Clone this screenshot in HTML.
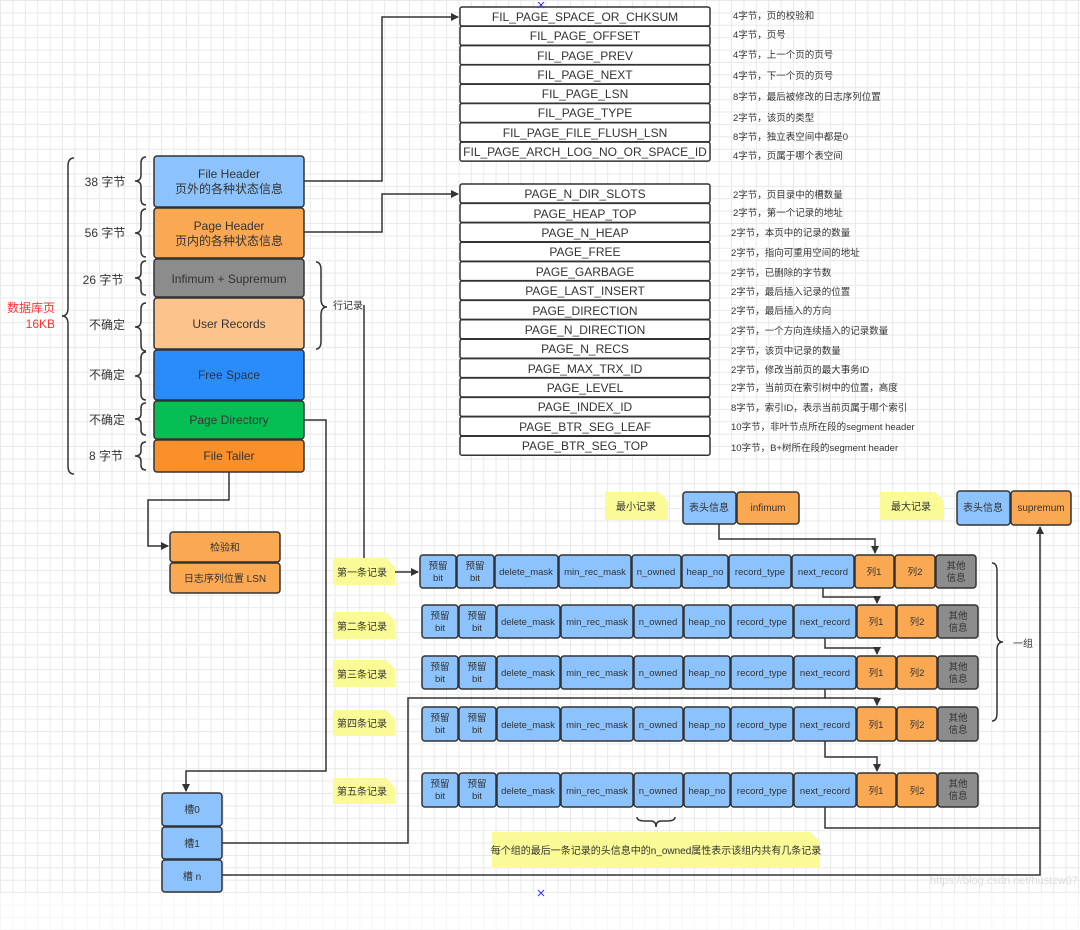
<!DOCTYPE html>
<html><head><meta charset="utf-8">
<style>
html,body{margin:0;padding:0;}
body{width:1080px;height:930px;overflow:hidden;background:#fff;
background-image:linear-gradient(#e9e9e9 1px,transparent 1px),linear-gradient(90deg,#e9e9e9 1px,transparent 1px);
background-size:12.4px 12.4px;}
svg{position:absolute;left:0;top:0;font-family:"Liberation Sans","Noto Sans CJK SC",sans-serif;}
</style></head><body>
<svg width="1080" height="930" viewBox="0 0 1080 930">
<defs>
<marker id="a" markerWidth="8" markerHeight="8" refX="7" refY="4" orient="auto" markerUnits="userSpaceOnUse">
<path d="M0,0 L8,4 L0,8 z" fill="#333"/></marker>
</defs>
<rect x="0" y="893" width="1080" height="37" fill="#fff" opacity="0.6"/>
<g stroke="#333" stroke-width="1.5" fill="none">
<!-- left big brace -->
<path d="M74,158 q-6,0 -6,8 v142 q0,8 -6,8 q6,0 6,8 v142 q0,8 6,8"/>
<!-- small braces -->
<path d="M146,157 q-5,0 -5,6 v12 q0,6 -6,6 q6,0 6,6 v12 q0,6 5,6"/>
<path d="M146,209 q-5,0 -5,6 v12 q0,6 -6,6 q6,0 6,6 v12 q0,6 5,6"/>
<path d="M146,261 q-5,0 -5,5 v7 q0,5 -6,5 q6,0 6,5 v7 q0,5 5,5"/>
<path d="M146,303 q-5,0 -5,6 v12 q0,6 -6,6 q6,0 6,6 v12 q0,6 5,6"/>
<path d="M146,352 q-5,0 -5,6 v12 q0,6 -6,6 q6,0 6,6 v12 q0,6 5,6"/>
<path d="M146,403 q-5,0 -5,5 v6 q0,5 -6,5 q6,0 6,5 v6 q0,5 5,5"/>
<path d="M146,442 q-5,0 -5,5 v4 q0,5 -6,5 q6,0 6,5 v4 q0,5 5,5"/>
<!-- 行记录 brace -->
<path d="M316,262 q5,0 5,8 v29 q0,8 6,8 q-6,0 -6,8 v26 q0,8 -5,8"/>
<!-- 一组 brace -->
<path d="M992,563 q5,0 5,8 v63 q0,8 6,8 q-6,0 -6,8 v63 q0,8 -5,8"/>
<!-- n_owned brace -->
<path d="M637,817 q0,4 8,4 h6 q5,0 5,6 q0,-6 5,-6 h6 q8,0 8,-4"/>
</g>
<g stroke="#333" stroke-width="1.5" fill="none">
<polyline points="304,181 382,181 382,17 458,17" marker-end="url(#a)"/>
<polyline points="304,232 382,232 382,194 458,194" marker-end="url(#a)"/>
<polyline points="364,305 364,565"/>
<polyline points="395,572 418,572" marker-end="url(#a)"/>
<polyline points="304,420 326,420 326,771 186,771 186,791" marker-end="url(#a)"/>
<polyline points="229,472 229,500 148,500 148,546 168,546" marker-end="url(#a)"/>
<polyline points="719,524 719,539 875,539 875,553" marker-end="url(#a)"/>
<polyline points="823,588 823,597 877,597 877,603" marker-end="url(#a)"/>
<polyline points="825,638 825,648 877,648 877,654" marker-end="url(#a)"/>
<polyline points="825,689 825,698 877,698 877,705" marker-end="url(#a)"/>
<polyline points="222,843 408,843 408,698 825,698"/>
<polyline points="825,741 825,757 877,757 877,771" marker-end="url(#a)"/>
<polyline points="825,807 825,828 1040,828"/>
<polyline points="222,875 1040,875 1040,527" marker-end="url(#a)"/>
</g>
<!-- left stack -->
<g stroke="#333" stroke-width="1.5">
<rect x="154" y="156" width="150" height="51" rx="3" fill="#8cc3fc"/>
<rect x="154" y="208" width="150" height="50" rx="3" fill="#fba853"/>
<rect x="154" y="259" width="150" height="38" rx="3" fill="#8c8c8c"/>
<rect x="154" y="298" width="150" height="51" rx="3" fill="#fcc48c"/>
<rect x="154" y="350" width="150" height="50" rx="3" fill="#2a8bfb"/>
<rect x="154" y="401" width="150" height="38" rx="3" fill="#06bf54"/>
<rect x="154" y="440" width="150" height="32" rx="3" fill="#fb8f2a"/>
<rect x="170" y="532" width="110" height="30" rx="3" fill="#fba853"/>
<rect x="170" y="563" width="110" height="30" rx="3" fill="#fba853"/>
<rect x="162" y="793" width="60" height="33" rx="3" fill="#8cc3fc"/>
<rect x="162" y="827" width="60" height="32" rx="3" fill="#8cc3fc"/>
<rect x="162" y="860" width="60" height="32" rx="3" fill="#8cc3fc"/>
</g>
<g font-size="12" fill="#333" text-anchor="middle">
<text x="229" y="178">File Header</text><text x="229" y="193">页外的各种状态信息</text>
<text x="229" y="230">Page Header</text><text x="229" y="245">页内的各种状态信息</text>
<text x="229" y="283">Infimum + Supremum</text>
<text x="229" y="328">User Records</text>
<text x="229" y="379">Free Space</text>
<text x="229" y="424">Page Directory</text>
<text x="229" y="460">File Tailer</text>
<text x="105" y="186">38 字节</text><text x="105" y="237">56 字节</text>
<text x="103" y="284">26 字节</text><text x="107" y="329">不确定</text>
<text x="107" y="379">不确定</text><text x="107" y="424">不确定</text>
<text x="106" y="460">8 字节</text>
</g>
<g font-size="10" fill="#333" text-anchor="middle">
<text x="225" y="551">检验和</text><text x="225" y="582">日志序列位置 LSN</text>
<text x="192" y="813">槽0</text><text x="192" y="847">槽1</text><text x="192" y="880">槽 n</text>
</g>
<text x="348" y="309" font-size="10" fill="#333" text-anchor="middle">行记录</text>
<text x="1023" y="647" font-size="10" fill="#333" text-anchor="middle">一组</text>
<text x="55" y="312" font-size="12" fill="#f33" text-anchor="end">数据库页</text>
<text x="55" y="328" font-size="12" fill="#f33" text-anchor="end">16KB</text>
<!-- lists -->
<g stroke="#333" stroke-width="1.5" fill="#fff">
<rect x="460" y="7" width="250" height="19" rx="2"/><rect x="460" y="26.3" width="250" height="19" rx="2"/>
<rect x="460" y="45.6" width="250" height="19" rx="2"/><rect x="460" y="64.9" width="250" height="19" rx="2"/>
<rect x="460" y="84.2" width="250" height="19" rx="2"/><rect x="460" y="103.5" width="250" height="19" rx="2"/>
<rect x="460" y="122.8" width="250" height="19" rx="2"/><rect x="460" y="142.1" width="250" height="19" rx="2"/>
<rect x="460" y="184" width="250" height="19" rx="2"/><rect x="460" y="203.4" width="250" height="19" rx="2"/>
<rect x="460" y="222.8" width="250" height="19" rx="2"/><rect x="460" y="242.2" width="250" height="19" rx="2"/>
<rect x="460" y="261.6" width="250" height="19" rx="2"/><rect x="460" y="281" width="250" height="19" rx="2"/>
<rect x="460" y="300.4" width="250" height="19" rx="2"/><rect x="460" y="319.8" width="250" height="19" rx="2"/>
<rect x="460" y="339.2" width="250" height="19" rx="2"/><rect x="460" y="358.6" width="250" height="19" rx="2"/>
<rect x="460" y="378" width="250" height="19" rx="2"/><rect x="460" y="397.4" width="250" height="19" rx="2"/>
<rect x="460" y="416.8" width="250" height="19" rx="2"/><rect x="460" y="436.2" width="250" height="19" rx="2"/>
</g>
<g font-size="12" fill="#333" text-anchor="middle">
<text x="585" y="21">FIL_PAGE_SPACE_OR_CHKSUM</text><text x="585" y="40">FIL_PAGE_OFFSET</text>
<text x="585" y="60">FIL_PAGE_PREV</text><text x="585" y="79">FIL_PAGE_NEXT</text>
<text x="585" y="98">FIL_PAGE_LSN</text><text x="585" y="117">FIL_PAGE_TYPE</text>
<text x="585" y="137">FIL_PAGE_FILE_FLUSH_LSN</text><text x="585" y="156">FIL_PAGE_ARCH_LOG_NO_OR_SPACE_ID</text>
<text x="585" y="198">PAGE_N_DIR_SLOTS</text><text x="585" y="218">PAGE_HEAP_TOP</text>
<text x="585" y="237">PAGE_N_HEAP</text><text x="585" y="256">PAGE_FREE</text>
<text x="585" y="276">PAGE_GARBAGE</text><text x="585" y="295">PAGE_LAST_INSERT</text>
<text x="585" y="315">PAGE_DIRECTION</text><text x="585" y="334">PAGE_N_DIRECTION</text>
<text x="585" y="353">PAGE_N_RECS</text><text x="585" y="373">PAGE_MAX_TRX_ID</text>
<text x="585" y="392">PAGE_LEVEL</text><text x="585" y="411">PAGE_INDEX_ID</text>
<text x="585" y="431">PAGE_BTR_SEG_LEAF</text><text x="585" y="450">PAGE_BTR_SEG_TOP</text>
</g>
<g font-size="9.5" fill="#333">
<text x="733" y="19">4字节，页的校验和</text><text x="733" y="38">4字节，页号</text>
<text x="733" y="58">4字节，上一个页的页号</text><text x="733" y="79">4字节，下一个页的页号</text>
<text x="733" y="100">8字节，最后被修改的日志序列位置</text><text x="733" y="121">2字节，该页的类型</text>
<text x="733" y="140">8字节，独立表空间中都是0</text><text x="733" y="159">4字节，页属于哪个表空间</text>
<text x="733" y="198">2字节，页目录中的槽数量</text><text x="733" y="216">2字节，第一个记录的地址</text>
<text x="731" y="236">2字节，本页中的记录的数量</text><text x="731" y="256">2字节，指向可重用空间的地址</text>
<text x="731" y="276">2字节，已删除的字节数</text><text x="731" y="295">2字节，最后插入记录的位置</text>
<text x="731" y="314">2字节，最后插入的方向</text><text x="731" y="334">2字节，一个方向连续插入的记录数量</text>
<text x="731" y="354">2字节，该页中记录的数量</text><text x="731" y="373">2字节，修改当前页的最大事务ID</text>
<text x="731" y="391">2字节，当前页在索引树中的位置，高度</text><text x="731" y="411">8字节，索引ID，表示当前页属于哪个索引</text>
<text x="731" y="430">10字节，非叶节点所在段的segment header</text><text x="731" y="451">10字节，B+树所在段的segment header</text>
</g>
<!-- notes -->
<g fill="#fafa96">
<path d="M333,558 h53 l9,9 v18 h-62z"/><path d="M333,612 h53 l9,9 v18 h-62z"/>
<path d="M333,660 h53 l9,9 v18 h-62z"/><path d="M333,710 h53 l9,9 v17 h-62z"/>
<path d="M333,778 h53 l9,9 v17 h-62z"/>
<path d="M605,492 h54 l9,9 v19 h-63z"/><path d="M880,492 h55 l9,9 v19 h-64z"/>
<path d="M492,832 h318 l10,10 v26 h-328z"/>
</g>
<g font-size="10" fill="#333" text-anchor="middle">
<text x="362" y="576">第一条记录</text><text x="362" y="630">第二条记录</text>
<text x="362" y="678">第三条记录</text><text x="362" y="727">第四条记录</text>
<text x="362" y="795">第五条记录</text>
<text x="636" y="510">最小记录</text><text x="911" y="510">最大记录</text>
<text x="656" y="854">每个组的最后一条记录的头信息中的n_owned属性表示该组内共有几条记录</text>
</g>
<g stroke="#333" stroke-width="1.5">
<rect x="683" y="492" width="53" height="32" rx="3" fill="#8cc3fc"/>
<rect x="737" y="492" width="62" height="32" rx="3" fill="#fba853"/>
<rect x="957" y="491" width="53" height="34" rx="3" fill="#8cc3fc"/>
<rect x="1011" y="491" width="60" height="34" rx="3" fill="#fba853"/>
</g>
<g font-size="10" fill="#333" text-anchor="middle">
<text x="709" y="511">表头信息</text><text x="768" y="511">infimum</text>
<text x="983" y="511">表头信息</text><text x="1041" y="511">supremum</text>
</g>
<!-- record rows -->
<g transform="translate(420,555)">
<g stroke="#333" stroke-width="1.5">
<rect x="0" width="36" height="33" rx="3" fill="#8cc3fc"/><rect x="37" width="37" height="33" rx="3" fill="#8cc3fc"/>
<rect x="75" width="63" height="33" rx="3" fill="#8cc3fc"/><rect x="139" width="72" height="33" rx="3" fill="#8cc3fc"/>
<rect x="212" width="49" height="33" rx="3" fill="#8cc3fc"/><rect x="262" width="46" height="33" rx="3" fill="#8cc3fc"/>
<rect x="309" width="62" height="33" rx="3" fill="#8cc3fc"/><rect x="372" width="62" height="33" rx="3" fill="#8cc3fc"/>
<rect x="435" width="39" height="33" rx="3" fill="#fba853"/><rect x="475" width="40" height="33" rx="3" fill="#fba853"/>
<rect x="516" width="40" height="33" rx="3" fill="#8c8c8c"/></g>
<g font-size="9.5" fill="#333" text-anchor="middle">
<text x="18" y="14">预留</text><text x="18" y="26">bit</text><text x="55" y="14">预留</text><text x="55" y="26">bit</text>
<text x="106" y="20">delete_mask</text><text x="175" y="20">min_rec_mask</text><text x="236" y="20">n_owned</text>
<text x="285" y="20">heap_no</text><text x="340" y="20">record_type</text><text x="403" y="20">next_record</text>
<text x="454" y="20">列1</text><text x="495" y="20">列2</text><text x="536" y="14">其他</text><text x="536" y="26">信息</text></g></g>
<g transform="translate(422,605)">
<g stroke="#333" stroke-width="1.5">
<rect x="0" width="36" height="33" rx="3" fill="#8cc3fc"/><rect x="37" width="37" height="33" rx="3" fill="#8cc3fc"/>
<rect x="75" width="63" height="33" rx="3" fill="#8cc3fc"/><rect x="139" width="72" height="33" rx="3" fill="#8cc3fc"/>
<rect x="212" width="49" height="33" rx="3" fill="#8cc3fc"/><rect x="262" width="46" height="33" rx="3" fill="#8cc3fc"/>
<rect x="309" width="62" height="33" rx="3" fill="#8cc3fc"/><rect x="372" width="62" height="33" rx="3" fill="#8cc3fc"/>
<rect x="435" width="39" height="33" rx="3" fill="#fba853"/><rect x="475" width="40" height="33" rx="3" fill="#fba853"/>
<rect x="516" width="40" height="33" rx="3" fill="#8c8c8c"/></g>
<g font-size="9.5" fill="#333" text-anchor="middle">
<text x="18" y="14">预留</text><text x="18" y="26">bit</text><text x="55" y="14">预留</text><text x="55" y="26">bit</text>
<text x="106" y="20">delete_mask</text><text x="175" y="20">min_rec_mask</text><text x="236" y="20">n_owned</text>
<text x="285" y="20">heap_no</text><text x="340" y="20">record_type</text><text x="403" y="20">next_record</text>
<text x="454" y="20">列1</text><text x="495" y="20">列2</text><text x="536" y="14">其他</text><text x="536" y="26">信息</text></g></g>
<g transform="translate(422,656)">
<g stroke="#333" stroke-width="1.5">
<rect x="0" width="36" height="33" rx="3" fill="#8cc3fc"/><rect x="37" width="37" height="33" rx="3" fill="#8cc3fc"/>
<rect x="75" width="63" height="33" rx="3" fill="#8cc3fc"/><rect x="139" width="72" height="33" rx="3" fill="#8cc3fc"/>
<rect x="212" width="49" height="33" rx="3" fill="#8cc3fc"/><rect x="262" width="46" height="33" rx="3" fill="#8cc3fc"/>
<rect x="309" width="62" height="33" rx="3" fill="#8cc3fc"/><rect x="372" width="62" height="33" rx="3" fill="#8cc3fc"/>
<rect x="435" width="39" height="33" rx="3" fill="#fba853"/><rect x="475" width="40" height="33" rx="3" fill="#fba853"/>
<rect x="516" width="40" height="33" rx="3" fill="#8c8c8c"/></g>
<g font-size="9.5" fill="#333" text-anchor="middle">
<text x="18" y="14">预留</text><text x="18" y="26">bit</text><text x="55" y="14">预留</text><text x="55" y="26">bit</text>
<text x="106" y="20">delete_mask</text><text x="175" y="20">min_rec_mask</text><text x="236" y="20">n_owned</text>
<text x="285" y="20">heap_no</text><text x="340" y="20">record_type</text><text x="403" y="20">next_record</text>
<text x="454" y="20">列1</text><text x="495" y="20">列2</text><text x="536" y="14">其他</text><text x="536" y="26">信息</text></g></g>
<g transform="translate(422,707)">
<g stroke="#333" stroke-width="1.5">
<rect x="0" width="36" height="34" rx="3" fill="#8cc3fc"/><rect x="37" width="37" height="34" rx="3" fill="#8cc3fc"/>
<rect x="75" width="63" height="34" rx="3" fill="#8cc3fc"/><rect x="139" width="72" height="34" rx="3" fill="#8cc3fc"/>
<rect x="212" width="49" height="34" rx="3" fill="#8cc3fc"/><rect x="262" width="46" height="34" rx="3" fill="#8cc3fc"/>
<rect x="309" width="62" height="34" rx="3" fill="#8cc3fc"/><rect x="372" width="62" height="34" rx="3" fill="#8cc3fc"/>
<rect x="435" width="39" height="34" rx="3" fill="#fba853"/><rect x="475" width="40" height="34" rx="3" fill="#fba853"/>
<rect x="516" width="40" height="34" rx="3" fill="#8c8c8c"/></g>
<g font-size="9.5" fill="#333" text-anchor="middle">
<text x="18" y="14">预留</text><text x="18" y="26">bit</text><text x="55" y="14">预留</text><text x="55" y="26">bit</text>
<text x="106" y="21">delete_mask</text><text x="175" y="21">min_rec_mask</text><text x="236" y="21">n_owned</text>
<text x="285" y="21">heap_no</text><text x="340" y="21">record_type</text><text x="403" y="21">next_record</text>
<text x="454" y="21">列1</text><text x="495" y="21">列2</text><text x="536" y="14">其他</text><text x="536" y="26">信息</text></g></g>
<g transform="translate(422,773)">
<g stroke="#333" stroke-width="1.5">
<rect x="0" width="36" height="34" rx="3" fill="#8cc3fc"/><rect x="37" width="37" height="34" rx="3" fill="#8cc3fc"/>
<rect x="75" width="63" height="34" rx="3" fill="#8cc3fc"/><rect x="139" width="72" height="34" rx="3" fill="#8cc3fc"/>
<rect x="212" width="49" height="34" rx="3" fill="#8cc3fc"/><rect x="262" width="46" height="34" rx="3" fill="#8cc3fc"/>
<rect x="309" width="62" height="34" rx="3" fill="#8cc3fc"/><rect x="372" width="62" height="34" rx="3" fill="#8cc3fc"/>
<rect x="435" width="39" height="34" rx="3" fill="#fba853"/><rect x="475" width="40" height="34" rx="3" fill="#fba853"/>
<rect x="516" width="40" height="34" rx="3" fill="#8c8c8c"/></g>
<g font-size="9.5" fill="#333" text-anchor="middle">
<text x="18" y="14">预留</text><text x="18" y="26">bit</text><text x="55" y="14">预留</text><text x="55" y="26">bit</text>
<text x="106" y="21">delete_mask</text><text x="175" y="21">min_rec_mask</text><text x="236" y="21">n_owned</text>
<text x="285" y="21">heap_no</text><text x="340" y="21">record_type</text><text x="403" y="21">next_record</text>
<text x="454" y="21">列1</text><text x="495" y="21">列2</text><text x="536" y="14">其他</text><text x="536" y="26">信息</text></g></g>
<g stroke="#33f" stroke-width="1"><path d="M538,2 l6,6 M544,2 l-6,6 M538,890 l6,6 M544,890 l-6,6"/></g>
<text x="930" y="884" font-size="11" fill="#ddd">https://blog.csdn.net/hustzw07</text>
</svg>
</body></html>
